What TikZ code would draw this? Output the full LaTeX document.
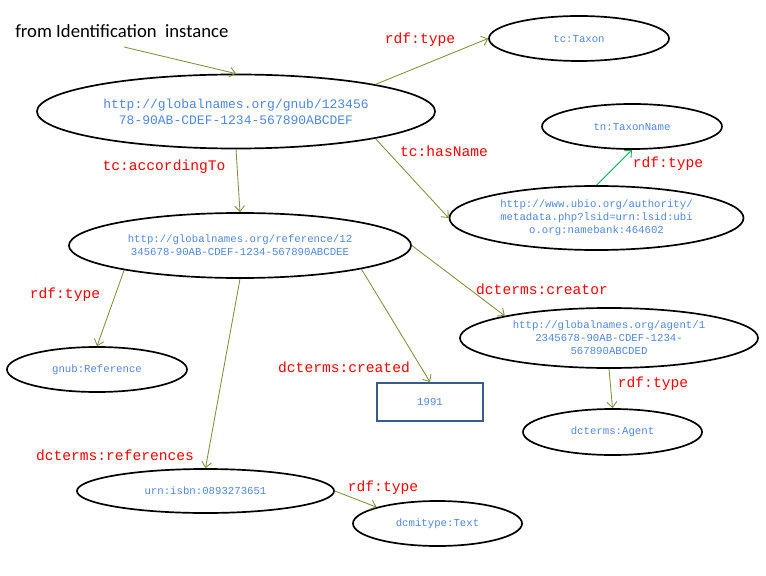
\documentclass[tikz,border=0pt]{standalone}
\usepackage{fontspec}
\setmonofont{Liberation Mono}
\newfontfamily\calibri{Carlito}
\usetikzlibrary{shapes.geometric,arrows.meta}
\definecolor{uri}{RGB}{80,135,225}
\definecolor{prop}{RGB}{255,0,0}
\definecolor{link}{RGB}{119,147,60}
\definecolor{typelink}{RGB}{0,176,80}
\definecolor{boxline}{RGB}{56,93,138}

\begin{document}
\begin{tikzpicture}[x=0.025cm,y=-0.025cm,
	res/.style={ellipse,draw,line width=1.2pt,inner sep=0pt,align=center,text=uri,font=\ttfamily\fontsize{7.6}{9.2}\selectfont},
	lit/.style={rectangle,draw=boxline,line width=1.3pt,inner sep=0pt,text=uri,font=\ttfamily\fontsize{7.6}{9.2}\selectfont},
	prp/.style={text=prop,inner sep=0pt,font=\ttfamily\fontsize{10.4}{12}\selectfont},
	arr/.style={draw=link,line width=0.6pt,-{Straight Barb[length=4pt,width=7pt]}}]

	\useasboundingbox (0,0) rectangle (766,576);

	% start of the chain
	\node[anchor=west,inner sep=0pt,font=\calibri\fontsize{13.3}{15}\selectfont] (start) at (15,31) {from Identification\ \ instance};
	\coordinate (from) at (124,47);

	% resources
	\node[res,minimum width=9.95cm,minimum height=1.85cm,font=\ttfamily\fontsize{9.25}{11.4}\selectfont] (gnub) at (236,111.5) {http://globalnames.org/gnub/123456\\78-90AB-CDEF-1234-567890ABCDEF};
	\node[res,minimum width=4.5cm,minimum height=1.125cm] (taxon) at (579,38.5) {tc:Taxon};
	\node[res,minimum width=4.5cm,minimum height=1.125cm] (taxonname) at (632,126.5) {tn:TaxonName};
	\node[res,minimum width=7.35cm,minimum height=1.6cm] (ubio) at (596.5,218) {http://www.ubio.org/authority/\\metadata.php?lsid=urn:lsid:ubi\\o.org:namebank:464602};
	\node[res,minimum width=8.55cm,minimum height=1.625cm] (ref) at (240,245.5) {http://globalnames.org/reference/12\\345678-90AB-CDEF-1234-567890ABCDEE};
	\node[res,minimum width=4.5cm,minimum height=1.125cm] (gnubref) at (97,369.5) {gnub:Reference};
	\node[lit,minimum width=2.65cm,minimum height=0.95cm] (year) at (430,402) {1991};
	\node[res,minimum width=7.45cm,minimum height=1.5cm] (agent) at (609,338) {http://globalnames.org/agent/1\\2345678-90AB-CDEF-1234-\\567890ABCDED};
	\node[res,minimum width=4.475cm,minimum height=1.15cm] (dcagent) at (612.5,432) {dcterms:Agent};
	\node[res,minimum width=6.425cm,minimum height=1.1cm] (isbn) at (205.5,491) {urn:isbn:0893273651};
	\node[res,minimum width=4.225cm,minimum height=1.125cm] (dcmi) at (437.5,523.5) {dcmitype:Text};

	% properties
	\node[prp] (p1) at (420,40) {rdf:type};
	\node[prp] (p2) at (444,151) {tc:hasName};
	\node[prp] (p3) at (668,164) {rdf:type};
	\node[prp] (p4) at (164,167) {tc:accordingTo};
	\node[prp] (p5) at (65,295) {rdf:type};
	\node[prp] (p6) at (344,367) {dcterms:created};
	\node[prp] (p7) at (542,289) {dcterms:creator};
	\node[prp] (p8) at (653,384) {rdf:type};
	\node[prp] (p9) at (115,455) {dcterms:references};
	\node[prp] (p10) at (383,488) {rdf:type};

	% links
	\draw[arr] (from) -- (gnub.north);
	\draw[arr] (gnub.11) -- (taxon.west);
	\draw[arr] (gnub.south) -- (ref.north);
	\draw[arr] (gnub.349) -- (ubio.west);
	\draw[arr,draw=typelink] (ubio.north) -- (taxonname.south);
	\draw[arr] (ref.192) -- (gnubref.north);
	\draw[arr] (ref.south) -- (isbn.north);
	\draw[arr] (ref.349) -- (year.north);
	\draw[arr] (ref.east) -- (agent.168);
	\draw[arr] (agent.south) -- (dcagent.north);
	\draw[arr] (isbn.east) -- (dcmi.165);
\end{tikzpicture}
\end{document}
